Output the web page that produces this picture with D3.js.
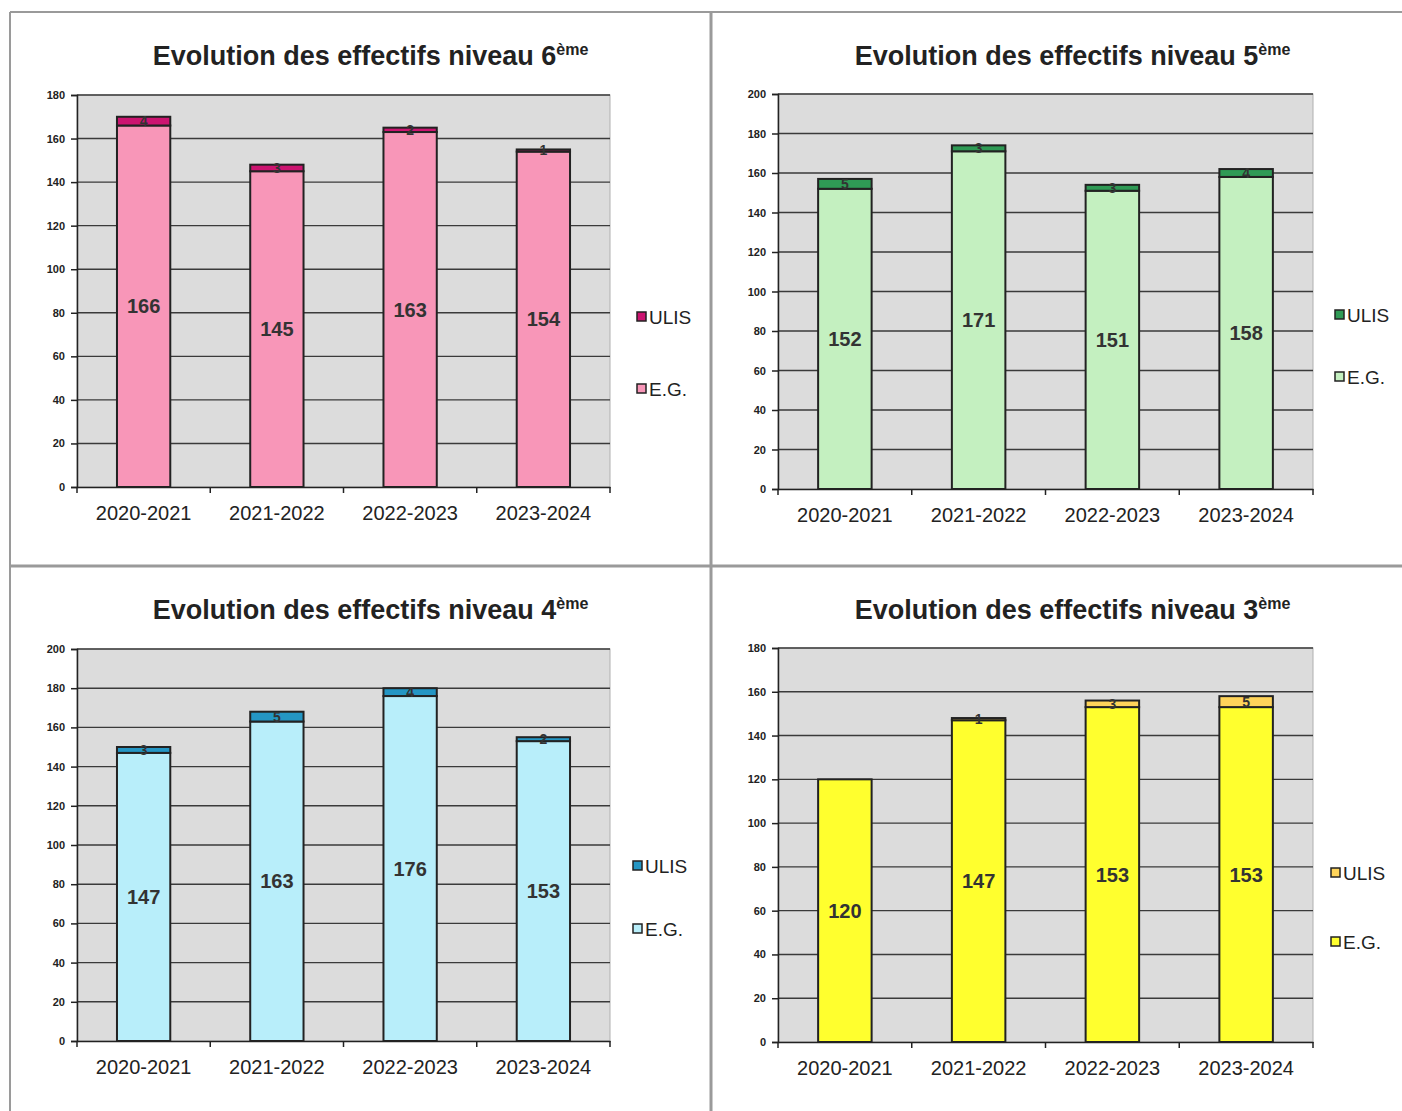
<!DOCTYPE html>
<html lang="fr">
<head>
<meta charset="utf-8" />
<title>Evolution des effectifs</title>
<script src="https://d3js.org/d3.v7.min.js"></script>
<style>
    body { margin: 0; background: #fff; }
    svg { display: block; font-family: "Liberation Sans", Arial, sans-serif; }
    .title { font-weight: bold; font-size: 27px; fill: #222; }
    .ytick { font-size: 11px; font-weight: bold; fill: #222; }
    .xlabel { font-size: 20px; fill: #222; }
    .val { font-size: 20px; font-weight: bold; fill: #333; }
    .ulis { font-size: 14px; font-weight: bold; fill: #333; }
    .legend { font-size: 19px; fill: #222; }
</style>
</head>
<body>
<svg id="chart" width="1402" height="1111"></svg>
<script>
    // data
    const years = ["2020-2021", "2021-2022", "2022-2023", "2023-2024"];
    const levels = ["6", "5", "4", "3"];
    const eg6 = [166, 145, 163, 154];
    const ulis6 = [4, 3, 2, 1];
    const eg5 = [152, 171, 151, 158];
    const ulis5 = [5, 3, 3, 4];
    const eg4 = [147, 163, 176, 153];
    const ulis4 = [3, 5, 4, 2];
    const eg3 = [120, 147, 153, 153];
    const ulis3 = [0, 1, 3, 5];
    const yMax = [180, 200, 200, 180];

    const svg = d3.select("#chart");

    // panel frames
    const frame = svg.append("g").attr("stroke", "#9a9a9a").attr("stroke-width", 2);
    frame.append("line").attr("x1", 10).attr("x2", 1402).attr("y1", 12).attr("y2", 12);
    frame.append("line").attr("x1", 10).attr("x2", 10).attr("y1", 12).attr("y2", 1111);
    frame.append("line").attr("x1", 711).attr("x2", 711).attr("y1", 12).attr("y2", 1111).attr("stroke-width", 3);
    frame.append("line").attr("x1", 10).attr("x2", 1402).attr("y1", 566).attr("y2", 566).attr("stroke-width", 3);

    const charts = [
        { level: levels[0], eg: eg6, ulis: ulis6, max: yMax[0], egColor: "#f896b8", ulisColor: "#cc1470",
          left: 77, right: 610, top: 95, bottom: 487, titleY: 65, legX: 637, legU: 317, legE: 389 },
        { level: levels[1], eg: eg5, ulis: ulis5, max: yMax[1], egColor: "#c4f0c0", ulisColor: "#2f9a55",
          left: 778, right: 1313, top: 94, bottom: 489, titleY: 65, legX: 1335, legU: 315, legE: 377 },
        { level: levels[2], eg: eg4, ulis: ulis4, max: yMax[2], egColor: "#b8eefa", ulisColor: "#2496c4",
          left: 77, right: 610, top: 649, bottom: 1041, titleY: 619, legX: 633, legU: 866, legE: 929 },
        { level: levels[3], eg: eg3, ulis: ulis3, max: yMax[3], egColor: "#ffff2e", ulisColor: "#ffd45a",
          left: 778, right: 1313, top: 648, bottom: 1042, titleY: 619, legX: 1331, legU: 873, legE: 942 }
    ];

    charts.forEach(c => {
        const g = svg.append("g");
        const x = d3.scaleBand().domain(years).range([c.left, c.right]).paddingInner(0.6).paddingOuter(0.3);
        const xb = d3.scaleBand().domain(years).range([c.left, c.right]);
        const y = d3.scaleLinear().domain([0, c.max]).range([c.bottom, c.top]);

        // title
        const t = g.append("text").attr("class", "title")
            .attr("x", (c.left + c.right) / 2 + 27).attr("y", c.titleY)
            .attr("text-anchor", "middle");
        t.append("tspan").text("Evolution des effectifs niveau " + c.level);
        t.append("tspan").text("ème").attr("font-size", "16px").attr("dy", "-10");

        // plot background
        g.append("rect").attr("x", c.left).attr("y", c.top)
            .attr("width", c.right - c.left).attr("height", c.bottom - c.top)
            .attr("fill", "#dcdcdc").attr("stroke", "#b0b0b0");

        // grid
        g.append("g").selectAll("line").data(y.ticks(c.max / 20).filter(d => d > 0))
            .join("line")
            .attr("x1", c.left).attr("x2", c.right)
            .attr("y1", d => y(d)).attr("y2", d => y(d))
            .attr("stroke", "#3a3a3a").attr("stroke-width", 1.4);

        // y axis
        const ya = g.append("g").attr("transform", `translate(${c.left},0)`)
            .call(d3.axisLeft(y).ticks(c.max / 20).tickSize(6).tickPadding(6));
        ya.select(".domain").attr("stroke", "#222").attr("stroke-width", 1.5);
        ya.selectAll(".tick line").attr("stroke", "#222").attr("stroke-width", 1.5);
        ya.selectAll(".tick text").attr("class", "ytick").attr("font-family", null).attr("font-size", null);

        // x axis
        const xa = g.append("g").attr("transform", `translate(0,${c.bottom})`)
            .call(d3.axisBottom(xb).tickSize(0).tickPadding(19).tickSizeOuter(0));
        xa.select(".domain").attr("stroke", "#222").attr("stroke-width", 1.5);
        xa.selectAll(".tick text").attr("class", "xlabel").attr("font-family", null).attr("font-size", null);
        xa.selectAll(".sep").data(years.concat(["end"])).join("line")
            .attr("x1", (d, i) => c.left + i * xb.bandwidth())
            .attr("x2", (d, i) => c.left + i * xb.bandwidth())
            .attr("y1", 0).attr("y2", 6)
            .attr("stroke", "#222").attr("stroke-width", 1.5);

        // bars
        const bars = g.append("g").attr("stroke", "#222").attr("stroke-width", 2);
        bars.selectAll("rect.eg").data(years).join("rect")
            .attr("x", d => x(d)).attr("width", x.bandwidth())
            .attr("y", (d, i) => y(c.eg[i])).attr("height", (d, i) => y(0) - y(c.eg[i]))
            .attr("fill", c.egColor);
        bars.selectAll("rect.ul").data(years.filter((d, i) => c.ulis[i] > 0)).join("rect")
            .attr("x", d => x(d)).attr("width", x.bandwidth())
            .attr("y", d => y(c.eg[years.indexOf(d)] + c.ulis[years.indexOf(d)]))
            .attr("height", d => y(c.eg[years.indexOf(d)]) - y(c.eg[years.indexOf(d)] + c.ulis[years.indexOf(d)]))
            .attr("fill", c.ulisColor);

        // value labels
        g.append("g").selectAll("text").data(years).join("text")
            .attr("class", "val")
            .attr("x", d => x(d) + x.bandwidth() / 2)
            .attr("y", (d, i) => y(c.eg[i] / 2))
            .attr("dy", "0.35em").attr("text-anchor", "middle")
            .text((d, i) => c.eg[i]);
        g.append("g").selectAll("text").data(years.filter((d, i) => c.ulis[i] > 0)).join("text")
            .attr("class", "ulis")
            .attr("x", d => x(d) + x.bandwidth() / 2)
            .attr("y", d => y(c.eg[years.indexOf(d)] + c.ulis[years.indexOf(d)] / 2))
            .attr("dy", "0.35em").attr("text-anchor", "middle")
            .text(d => c.ulis[years.indexOf(d)]);

        // legend
        const leg = [["ULIS", c.ulisColor, c.legU], ["E.G.", c.egColor, c.legE]];
        leg.forEach(([name, col, ly]) => {
            g.append("rect").attr("x", c.legX).attr("y", ly - 5)
                .attr("width", 9).attr("height", 9)
                .attr("fill", col).attr("stroke", "#222").attr("stroke-width", 1.5);
            g.append("text").attr("class", "legend").attr("x", c.legX + 12).attr("y", ly)
                .attr("dy", "0.35em").text(name);
        });
    });
</script>
</body>
</html>
